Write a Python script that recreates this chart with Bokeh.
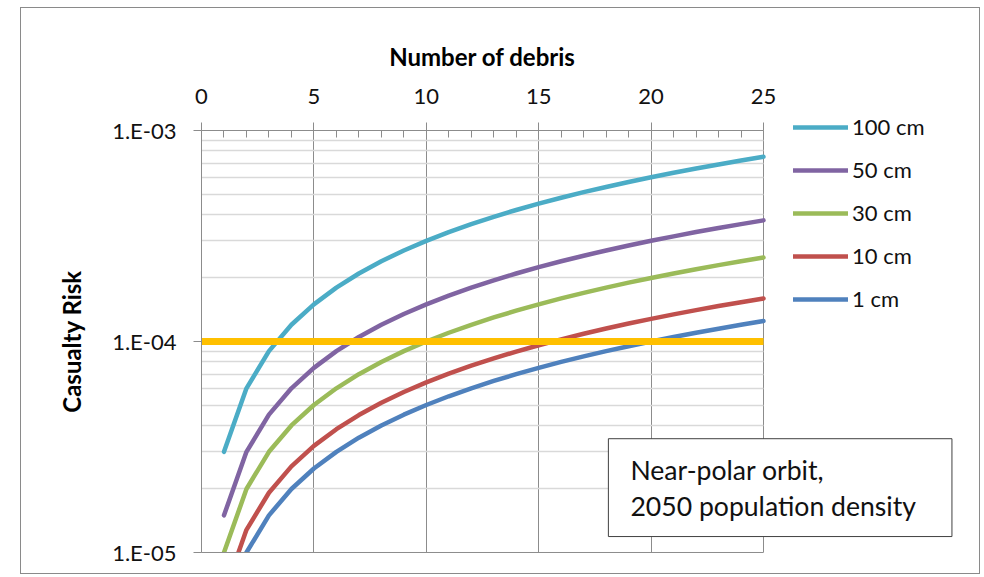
from bokeh.plotting import figure
from bokeh.models import (Range1d, FixedTicker, CustomJSTickFormatter,
                          Legend, LegendItem, Label)
from bokeh.embed import file_html
from bokeh.resources import INLINE

# ---------------- data ----------------
debris = [1, 2, 3, 4, 5, 6, 7, 8, 9, 10, 11, 12, 13, 14, 15,
          16, 17, 18, 19, 20, 21, 22, 23, 24, 25]

risk_100cm = [3.0e-5, 6.0e-5, 9.0e-5, 1.2e-4, 1.5e-4, 1.8e-4, 2.1e-4, 2.4e-4, 2.7e-4, 3.0e-4,
              3.3e-4, 3.6e-4, 3.9e-4, 4.2e-4, 4.5e-4, 4.8e-4, 5.1e-4, 5.4e-4, 5.7e-4, 6.0e-4,
              6.3e-4, 6.6e-4, 6.9e-4, 7.2e-4, 7.5e-4]
risk_50cm = [1.5e-5, 3.0e-5, 4.5e-5, 6.0e-5, 7.5e-5, 9.0e-5, 1.05e-4, 1.2e-4, 1.35e-4, 1.5e-4,
             1.65e-4, 1.8e-4, 1.95e-4, 2.1e-4, 2.25e-4, 2.4e-4, 2.55e-4, 2.7e-4, 2.85e-4, 3.0e-4,
             3.15e-4, 3.3e-4, 3.45e-4, 3.6e-4, 3.75e-4]
risk_30cm = [1.0e-5, 2.0e-5, 3.0e-5, 4.0e-5, 5.0e-5, 6.0e-5, 7.0e-5, 8.0e-5, 9.0e-5, 1.0e-4,
             1.1e-4, 1.2e-4, 1.3e-4, 1.4e-4, 1.5e-4, 1.6e-4, 1.7e-4, 1.8e-4, 1.9e-4, 2.0e-4,
             2.1e-4, 2.2e-4, 2.3e-4, 2.4e-4, 2.5e-4]
risk_10cm = [6.4e-6, 1.28e-5, 1.92e-5, 2.56e-5, 3.2e-5, 3.84e-5, 4.48e-5, 5.12e-5, 5.76e-5, 6.4e-5,
             7.04e-5, 7.68e-5, 8.32e-5, 8.96e-5, 9.6e-5, 1.024e-4, 1.088e-4, 1.152e-4, 1.216e-4, 1.28e-4,
             1.344e-4, 1.408e-4, 1.472e-4, 1.536e-4, 1.6e-4]
risk_1cm = [5.0e-6, 1.0e-5, 1.5e-5, 2.0e-5, 2.5e-5, 3.0e-5, 3.5e-5, 4.0e-5, 4.5e-5, 5.0e-5,
            5.5e-5, 6.0e-5, 6.5e-5, 7.0e-5, 7.5e-5, 8.0e-5, 8.5e-5, 9.0e-5, 9.5e-5, 1.0e-4,
            1.05e-4, 1.1e-4, 1.15e-4, 1.2e-4, 1.25e-4]

series_names = ["100 cm", "50 cm", "30 cm", "10 cm", "1 cm"]
series_values = [risk_100cm, risk_50cm, risk_30cm, risk_10cm, risk_1cm]
series_colors = ["#4BACC6", "#8064A2", "#9BBB59", "#C0504D", "#4F81BD"]

threshold_x = [0, 25]
threshold_y = [1.0e-4, 1.0e-4]

x_major_ticks = [0, 5, 10, 15, 20, 25]
x_minor_ticks = [1, 2, 3, 4, 6, 7, 8, 9, 11, 12, 13, 14, 16, 17, 18, 19, 21, 22, 23, 24]
x_grid_ticks = [5, 10, 15, 20, 25]
y_major_ticks = [1.0e-5, 1.0e-4, 1.0e-3]
y_tick_labels = ["1.E-05", "1.E-04", "1.E-03"]
y_minor_ticks = [2e-5, 3e-5, 4e-5, 5e-5, 6e-5, 7e-5, 8e-5, 9e-5,
                 2e-4, 3e-4, 4e-4, 5e-4, 6e-4, 7e-4, 8e-4, 9e-4]

X_MIN, X_MAX = 0, 25
Y_MIN, Y_MAX = 1.0e-5, 1.0e-3

note_text = "Near-polar orbit,\n2050 population density"

FONT = "Lato"
GRID_DARK = "#8c8c8c"
GRID_LIGHT = "#d9d9d9"

# The frame is stretched beyond the data area (0..25, 1e-5..1e-3) so that the
# axes (pinned at x=0 / y=1e-3), the legend and the note box are not clipped.
xr = Range1d(-7.162, 33.808)
yr = Range1d(7.78e-6, 3.043e-3)
p = figure(width=960, height=567, x_range=xr, y_range=yr,
           y_axis_type="log", x_axis_location="above",
           output_backend="svg", toolbar_location=None,
           min_border_left=19, min_border_right=20,
           min_border_top=20, min_border_bottom=0,
           margin=(7, 0, 0, 20),
           styles={"border": "1px solid #8a8a8a"})

p.outline_line_color = None

# x axis (top, pinned at 1e-3)
xa = p.xaxis[0]
xa.fixed_location = Y_MAX
xa.bounds = (X_MIN, X_MAX)
xa.ticker = FixedTicker(ticks=x_major_ticks, minor_ticks=x_minor_ticks)
xa.axis_label = "Number of debris"
xa.axis_label_text_font = FONT
xa.axis_label_text_font_style = "bold"
xa.axis_label_text_font_size = "24px"
xa.axis_label_text_color = "#000000"
xa.axis_label_standoff = 16
xa.major_label_text_font = FONT
xa.major_label_text_font_size = "22px"
xa.major_label_text_color = "#111111"
xa.major_label_standoff = 18
xa.axis_line_color = GRID_DARK
xa.major_tick_line_color = GRID_DARK
xa.minor_tick_line_color = GRID_DARK
xa.major_tick_in = 0
xa.major_tick_out = 8
xa.minor_tick_in = 7
xa.minor_tick_out = 0

# y axis (log, pinned at x=0)
ya = p.yaxis[0]
ya.fixed_location = X_MIN
ya.bounds = (Y_MIN, Y_MAX)
ya.ticker = FixedTicker(ticks=y_major_ticks, minor_ticks=y_minor_ticks)
ya.formatter = CustomJSTickFormatter(args=dict(labels=y_tick_labels),
                                     code="return labels[Math.round(Math.log10(tick)) + 5];")
ya.axis_label = "Casualty Risk"
ya.axis_label_text_font = FONT
ya.axis_label_text_font_style = "bold"
ya.axis_label_text_font_size = "24px"
ya.axis_label_text_color = "#000000"
ya.axis_label_standoff = 23
ya.major_label_text_font = FONT
ya.major_label_text_font_size = "22px"
ya.major_label_text_color = "#111111"
ya.major_label_standoff = 17
ya.axis_line_color = GRID_DARK
ya.major_tick_line_color = GRID_DARK
ya.major_tick_in = 0
ya.major_tick_out = 8
ya.minor_tick_line_color = None

# grids limited to the data area
p.xgrid.ticker = FixedTicker(ticks=x_grid_ticks)
p.xgrid.grid_line_color = GRID_DARK
p.xgrid.grid_line_width = 1
p.xgrid.cross_bounds = (Y_MIN, Y_MAX)
p.ygrid.ticker = FixedTicker(ticks=y_major_ticks, minor_ticks=y_minor_ticks)
p.ygrid.grid_line_color = GRID_DARK
p.ygrid.grid_line_width = 1
p.ygrid.minor_grid_line_color = GRID_LIGHT
p.ygrid.minor_grid_line_width = 1.5
p.ygrid.cross_bounds = (X_MIN, X_MAX)

# series (draw back to front: 1 cm first)
renderers = {}
for name, vals, col in reversed(list(zip(series_names, series_values, series_colors))):
    r = p.line(debris, vals, line_color=col, line_width=4.5,
               line_cap="round", line_join="round")
    renderers[name] = r

# hide the parts of the curves that fall below the 1e-5 axis minimum
p.quad(left=[xr.start], right=[xr.end], bottom=[yr.start * 0.5], top=[Y_MIN],
       fill_color="white", line_color=None)
p.line([X_MIN, X_MAX], [Y_MIN, Y_MIN], line_color=GRID_DARK, line_width=1)

p.line(threshold_x, threshold_y, line_color="#FFC000", line_width=7)

legend = Legend(items=[LegendItem(label=n, renderers=[renderers[n]]) for n in series_names],
                location=(753, 263), orientation="vertical")
legend.border_line_color = None
legend.background_fill_alpha = 0
legend.padding = 0
legend.margin = 0
legend.spacing = 16
legend.glyph_width = 55
legend.glyph_height = 20
legend.label_height = 20
legend.label_standoff = 4
legend.label_text_font = FONT
legend.label_text_font_size = "22px"
legend.label_text_color = "#111111"
p.add_layout(legend)

note = Label(x=18.1, y=1.19e-5, text=note_text,
             text_font=FONT, text_font_size="26.6px", text_color="#111111",
             text_align="left", text_baseline="bottom", text_line_height=1.12,
             border_line_color="#404040", border_line_width=1,
             background_fill_color="white",
             padding=dict(left=22, right=36, top=15, bottom=15))
p.add_layout(note)

open("out.html", "w").write(file_html(p, INLINE))
